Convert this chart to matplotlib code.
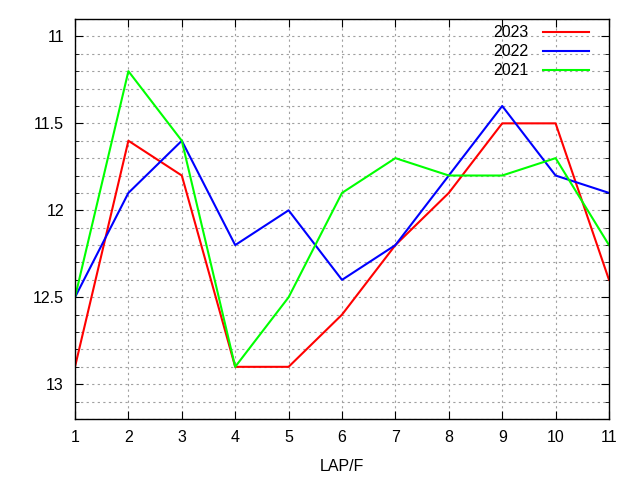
import matplotlib
matplotlib.use("Agg")
import matplotlib.pyplot as plt
from matplotlib.ticker import MultipleLocator

plt.rcParams['font.family'] = ['Liberation Sans', 'DejaVu Sans']

laps = [1, 2, 3, 4, 5, 6, 7, 8, 9, 10, 11]
s2023 = [12.9, 11.6, 11.8, 12.9, 12.9, 12.6, 12.2, 11.9, 11.5, 11.5, 12.4]
s2022 = [12.5, 11.9, 11.6, 12.2, 12.0, 12.4, 12.2, 11.8, 11.4, 11.8, 11.9]
s2021 = [12.5, 11.2, 11.6, 12.9, 12.5, 11.9, 11.7, 11.8, 11.8, 11.7, 12.2]
labels = ["2023", "2022", "2021"]
colors = ["#ff0000", "#0000ff", "#00ff00"]

fig = plt.figure(figsize=(6.4, 4.8), dpi=100)
ax = fig.add_axes([75/640, 1-419/480, (609-75)/640, (419-19)/480])

for s, lab, c in zip([s2023, s2022, s2021], labels, colors):
    ax.plot(laps, s, color=c, lw=1.5, label=lab)

ax.set_xlim(1, 11)
ax.set_ylim(13.2, 10.9)
ax.xaxis.set_major_locator(MultipleLocator(1))
ax.yaxis.set_major_locator(MultipleLocator(0.5))
ax.yaxis.set_minor_locator(MultipleLocator(0.1))
ax.yaxis.set_major_formatter(matplotlib.ticker.FuncFormatter(lambda v, p: f"{v:g}"))
ax.grid(True, which='both', color='#a0a0a0', linestyle=(0, (2, 3)), lw=0.8)
ax.tick_params(which='both', direction='in', top=True, right=True, labelsize=11.5, pad=8, color='black')
ax.tick_params(which='major', length=6)
ax.tick_params(which='minor', length=3)
for sp in ax.spines.values():
    sp.set_linewidth(1.0)
ax.set_xlabel("LAP/F", fontsize=11.5, labelpad=10)

ax.legend(loc='upper right', bbox_to_anchor=(1 - 11.6/534, 1.0 + 1.5/400), frameon=False,
          markerfirst=False, fontsize=11.5,
          handlelength=2.9, labelspacing=0.24, borderaxespad=0.3, borderpad=0.2,
          handletextpad=0.9)

fig.savefig("out.png", dpi=100)
